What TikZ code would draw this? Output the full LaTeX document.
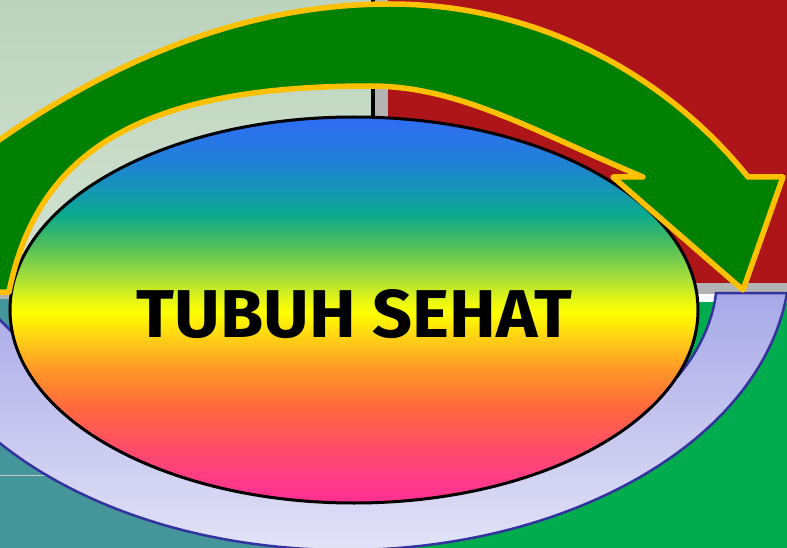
\documentclass[tikz,border=0pt]{standalone}
\usepackage{fontspec}
\usepackage{graphicx}
\usetikzlibrary{shapes.geometric}
\newfontfamily\tfont{Fira Sans}
\definecolor{tlA}{HTML}{BCD3BC}
\definecolor{tlB}{HTML}{D4E4D4}
\definecolor{redq}{HTML}{AD1519}
\definecolor{greenq}{HTML}{00AC4E}
\definecolor{tealq}{HTML}{44969A}
\definecolor{greyq}{HTML}{B3B3B3}
\definecolor{faintq}{HTML}{C8C8C8}
\definecolor{arrowgreen}{HTML}{008000}
\definecolor{arrowline}{HTML}{FFC000}
\definecolor{lavA}{HTML}{A8A8E8}
\definecolor{lavB}{HTML}{E6E6F8}
\definecolor{lavline}{HTML}{3333A0}
\definecolor{rA}{HTML}{FF3090}
\definecolor{rB}{HTML}{FF378C}
\definecolor{rC}{HTML}{FF5064}
\definecolor{rD}{HTML}{FF693C}
\definecolor{rE}{HTML}{FF9628}
\definecolor{rF}{HTML}{FFD214}
\definecolor{rG}{HTML}{FFFF00}
\definecolor{rH}{HTML}{E6F514}
\definecolor{rI}{HTML}{A0DC3C}
\definecolor{rJ}{HTML}{50BE5A}
\definecolor{rK}{HTML}{0AAA8C}
\definecolor{rL}{HTML}{1496B4}
\definecolor{rM}{HTML}{2080D8}
\definecolor{rN}{HTML}{306CF5}
\pgfdeclareverticalshading{rainbow}{100bp}{color(0bp)=(rA); color(25bp)=(rA); color(27.1bp)=(rB); color(32.8bp)=(rC); color(37.4bp)=(rD); color(42.2bp)=(rE); color(46.5bp)=(rF); color(49.7bp)=(rG); color(51.3bp)=(rH); color(54.5bp)=(rI); color(58.4bp)=(rJ); color(62.3bp)=(rK); color(65.5bp)=(rL); color(69.4bp)=(rM); color(75bp)=(rN); color(100bp)=(rN)}
\begin{document}
\begin{tikzpicture}[x=1pt,y=-1pt,
  arrowband/.style={fill=arrowgreen,draw=arrowline,line width=5.5pt,line join=round},
  lavband/.style={top color=lavA,bottom color=lavB,draw=lavline,line width=2.5pt},
  bigoval/.style={ellipse,shading=rainbow,draw=black,line width=3pt,inner sep=0pt,minimum width=688pt,minimum height=386pt},
  titletext/.style={inner sep=0pt,text=black},
  faint/.style={draw=faintq,line width=1pt}]
\useasboundingbox (0,0) rectangle (787,548);
\clip (0,0) rectangle (787,548);
% background quadrants
\fill[top color=tlA,bottom color=tlB] (0,0) rectangle (371,295);
\fill[greyq] (0,295) rectangle (371,299);
\fill[tealq] (0,299) rectangle (380,548);
\fill[redq] (388,0) rectangle (787,283);
\fill[greyq] (375,0) rectangle (388,283);
\fill[black] (371,0) rectangle (375,283);
\fill[greyq] (371,283) rectangle (787,294);
\fill[white] (371,294) rectangle (787,302);
\fill[greenq] (380,302) rectangle (787,548);
\coordinate (fa) at (0,475);
\coordinate (fb) at (50,475);
\draw[faint] (fa) -- (fb);
% lavender band
\path[lavband] (787,293) arc[start angle=-6.53, end angle=-170, x radius=445pt, y radius=290pt]
  -- (-20,300) -- (0,320) -- (13,333) -- (100,400) -- (354,460) -- (600,420) -- (678,376)
  .. controls (700,350) and (713,320) .. (716,293) -- cycle;
% central ellipse
\node[bigoval] (oval) at (354,310) {};
\node[titletext] (label) at (354.5,314) {\resizebox{435pt}{48pt}{\tfont\bfseries TUBUH SEHAT}};
% green curved arrow
\path[arrowband] (-60,292) -- (-40,168.6)
  .. controls (103.3,58.9) and (246.7,4) .. (390,4)
  .. controls (540,4) and (668,77) .. (748,177)
  -- (783,177) -- (743,290) -- (613,177) -- (643,177)
  .. controls (533,131) and (460,86) .. (370,86)
  .. controls (140,86) and (37,152) .. (9,292) -- cycle;
\end{tikzpicture}
\end{document}
